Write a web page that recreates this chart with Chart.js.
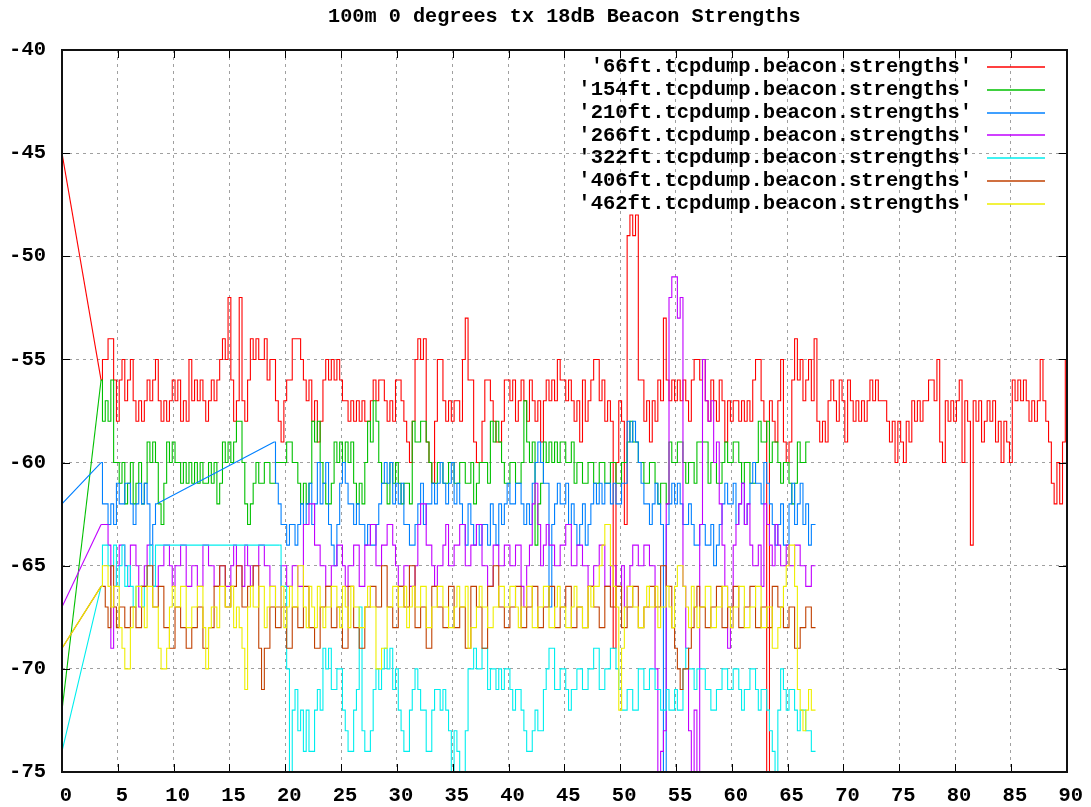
<!DOCTYPE html>
<html>
<head>
<meta charset="utf-8">
<script src="https://cdn.jsdelivr.net/npm/chart.js@4.4.0/dist/chart.umd.min.js"></script>
<style>
html,body{margin:0;padding:0;background:#fff;}
#wrap{width:1091px;height:807px;}
</style>
</head>
<body>
<div id="wrap"><canvas id="c" width="1091" height="807"></canvas></div>
<script>
const chartTitle = '100m 0 degrees tx 18dB Beacon Strengths';
const seriesLabels = [
  "'66ft.tcpdump.beacon.strengths'",
  "'154ft.tcpdump.beacon.strengths'",
  "'210ft.tcpdump.beacon.strengths'",
  "'266ft.tcpdump.beacon.strengths'",
  "'322ft.tcpdump.beacon.strengths'",
  "'406ft.tcpdump.beacon.strengths'",
  "'462ft.tcpdump.beacon.strengths'"
];
const seriesColors = ['#ff0000','#00c000','#0080ff','#c000ff','#00eeee','#c04000','#eeee00'];
const xTicks = [0,5,10,15,20,25,30,35,40,45,50,55,60,65,70,75,80,85,90];
const yTicks = [-40,-45,-50,-55,-60,-65,-70,-75];

// sample times (seconds), one row per 5 s
const times = [
  0,0.25,0.5,0.75,1,1.25,1.5,1.75,2,2.25,2.5,2.75,3,3.25,3.5,3.75,4,4.25,4.5,4.75,
  5,5.25,5.5,5.75,6,6.25,6.5,6.75,7,7.25,7.5,7.75,8,8.25,8.5,8.75,9,9.25,9.5,9.75,
  10,10.25,10.5,10.75,11,11.25,11.5,11.75,12,12.25,12.5,12.75,13,13.25,13.5,13.75,14,14.25,14.5,14.75,
  15,15.25,15.5,15.75,16,16.25,16.5,16.75,17,17.25,17.5,17.75,18,18.25,18.5,18.75,19,19.25,19.5,19.75,
  20,20.25,20.5,20.75,21,21.25,21.5,21.75,22,22.25,22.5,22.75,23,23.25,23.5,23.75,24,24.25,24.5,24.75,
  25,25.25,25.5,25.75,26,26.25,26.5,26.75,27,27.25,27.5,27.75,28,28.25,28.5,28.75,29,29.25,29.5,29.75,
  30,30.25,30.5,30.75,31,31.25,31.5,31.75,32,32.25,32.5,32.75,33,33.25,33.5,33.75,34,34.25,34.5,34.75,
  35,35.25,35.5,35.75,36,36.25,36.5,36.75,37,37.25,37.5,37.75,38,38.25,38.5,38.75,39,39.25,39.5,39.75,
  40,40.25,40.5,40.75,41,41.25,41.5,41.75,42,42.25,42.5,42.75,43,43.25,43.5,43.75,44,44.25,44.5,44.75,
  45,45.25,45.5,45.75,46,46.25,46.5,46.75,47,47.25,47.5,47.75,48,48.25,48.5,48.75,49,49.25,49.5,49.75,
  50,50.25,50.5,50.75,51,51.25,51.5,51.75,52,52.25,52.5,52.75,53,53.25,53.5,53.75,54,54.25,54.5,54.75,
  55,55.25,55.5,55.75,56,56.25,56.5,56.75,57,57.25,57.5,57.75,58,58.25,58.5,58.75,59,59.25,59.5,59.75,
  60,60.25,60.5,60.75,61,61.25,61.5,61.75,62,62.25,62.5,62.75,63,63.25,63.5,63.75,64,64.25,64.5,64.75,
  65,65.25,65.5,65.75,66,66.25,66.5,66.75,67,67.25,67.5,67.75,68,68.25,68.5,68.75,69,69.25,69.5,69.75,
  70,70.25,70.5,70.75,71,71.25,71.5,71.75,72,72.25,72.5,72.75,73,73.25,73.5,73.75,74,74.25,74.5,74.75,
  75,75.25,75.5,75.75,76,76.25,76.5,76.75,77,77.25,77.5,77.75,78,78.25,78.5,78.75,79,79.25,79.5,79.75,
  80,80.25,80.5,80.75,81,81.25,81.5,81.75,82,82.25,82.5,82.75,83,83.25,83.5,83.75,84,84.25,84.5,84.75,
  85,85.25,85.5,85.75,86,86.25,86.5,86.75,87,87.25,87.5,87.75,88,88.25,88.5,88.75,89,89.25,89.5,89.75,
  90
];

const s66 = [
  -45,null,null,null,null,null,null,null,null,null,null,null,null,null,-56,-55,-55,-54,-54,-56,
  -58,-56,-55,-57,-56,-55,-57,-58,-57,-58,-57,-56,-57,-56,-55,-57,-58,-57,-58,-57,
  -56,-57,-56,-58,-57,-58,-55,-57,-56,-57,-56,-57,-58,-57,-56,-57,-56,-55,-54,-55,
  -52,-56,-58,-57,-52,-57,-58,-56,-54,-55,-54,-55,-55,-54,-56,-55,-55,-57,-58,-59,
  -57,-56,-56,-54,-54,-54,-55,-56,-57,-56,-58,-57,-59,-58,-56,-55,-56,-55,-56,-55,
  -56,-57,-57,-58,-57,-58,-57,-58,-57,-58,-58,-57,-56,-57,-56,-56,-57,-58,-57,-58,
  -56,-56,-57,-58,-59,-60,-58,-55,-54,-55,-54,-59,-60,-61,-58,-55,-55,-57,-58,-57,
  -58,-57,-57,-58,-55,-53,-56,-56,-59,-60,-60,-58,-56,-56,-57,-58,-59,-59,-58,-56,
  -56,-57,-56,-58,-57,-56,-57,-58,-56,-57,-58,-57,-59,-57,-56,-57,-56,-57,-55,-56,
  -56,-57,-56,-57,-58,-57,-59,-56,-58,-57,-56,-55,-55,-57,-56,-58,-57,-58,-69,-60,
  -57,-58,-63,-49,-48,-49,-48,-56,-56,-58,-57,-59,-57,-58,-56,-57,-53,-56,-57,-56,
  -57,-56,-57,-56,-57,-58,-56,-55,-55,-56,-55,-57,-58,-56,-57,-58,-56,-57,-59,-57,
  -58,-57,-57,-58,-57,-58,-57,-58,-56,-55,-55,-57,-58,-75,-57,-58,-59,-57,-55,-59,
  -60,-59,-56,-54,-56,-55,-57,-56,-55,-57,-54,-58,-59,-58,-59,-57,-56,-57,-58,-56,
  -57,-59,-56,-57,-58,-57,-58,-57,-58,-57,-56,-57,-56,-57,-57,-57,-58,-59,-58,-60,
  -58,-59,-60,-58,-59,-57,-58,-57,-58,-57,-57,-56,-56,-57,-55,-59,-60,-57,-58,-57,
  -58,-57,-56,-60,-57,-58,-64,-57,-58,-57,-59,-58,-57,-58,-57,-59,-58,-60,-58,-59,
  -60,-56,-57,-56,-57,-56,-57,-58,-57,-58,-57,-55,-57,-58,-59,-61,-62,-60,-62,-59,
  -55
];
const s154 = [
  -72,null,null,null,null,null,null,null,null,null,null,null,null,null,-56,-58,-57,-58,-56,-60,
  -60,-61,-60,-62,-61,-60,-62,-61,-60,-62,-61,-59,-60,-59,-60,-62,-63,-61,-59,-60,
  -59,-60,-60,-61,-60,-61,-60,-61,-60,-61,-60,-61,-61,-60,-61,-60,-62,-61,-59,-60,
  -59,-60,-59,-58,-58,-60,-62,-63,-62,-61,-60,-61,-61,-60,-60,-61,-61,-60,-60,-60,
  -60,-59,-59,-60,-60,-61,-62,-61,-62,-61,-58,-59,-58,-60,-61,-62,-62,-61,-59,-60,
  -59,-60,-59,-60,-59,-61,-62,-61,-62,-60,-58,-59,-57,-58,-60,-61,-61,-62,-60,-61,
  -60,-61,-62,-61,-61,-62,-58,-59,-59,-58,-58,-59,-60,-61,-61,-60,-60,-61,-61,-60,
  -60,-61,-61,-60,-60,-61,-61,-60,-62,-61,-60,-60,-60,-61,-58,-59,-58,-59,-60,-61,
  -61,-60,-60,-61,-61,-60,-57,-59,-60,-59,-64,-62,-61,-59,-60,-59,-60,-59,-60,-59,
  -59,-60,-60,-59,-61,-60,-60,-61,-61,-60,-60,-61,-61,-60,-60,-61,-61,-60,-60,-61,
  -61,-60,-60,-59,-58,-59,-59,-60,-60,-61,-61,-60,-60,-61,-62,-61,-61,-62,-59,-60,
  -60,-59,-59,-60,-61,-60,-60,-61,-59,-59,-59,-59,-61,-60,-60,-61,-61,-60,-59,-60,
  -60,-59,-59,-60,-61,-60,-60,-61,-61,-60,-58,-59,-59,-58,-60,-59,-59,-60,-61,-60,
  -60,-61,-62,-61,-59,-60,-60,-59,-59
];
const s210 = [
  -62,null,null,null,null,null,null,null,null,null,null,null,null,null,-60,-62,-62,-63,-62,-63,
  -61,-62,-62,-61,-61,-62,-63,-62,-61,-62,-61,-62,-64,-63,-62,null,null,null,null,null,
  null,null,null,null,null,null,null,null,null,null,null,null,null,null,null,null,null,null,null,null,
  null,null,null,null,null,null,null,null,null,null,null,null,null,null,null,null,-59,-61,-62,-63,
  -63,-64,-63,-63,-64,-63,-62,-63,-62,-61,-63,-62,-60,-62,-61,-60,-63,-64,-65,-63,
  -61,-60,-61,-62,-62,-63,-62,-63,-63,-64,-63,-64,-64,-63,-62,-61,-60,-61,-60,-62,
  -61,-62,-61,-63,-63,-64,-64,-63,-62,-61,-63,-62,-62,-61,-62,-61,-60,-61,-62,-61,
  -60,-62,-61,-62,-63,-64,-62,-63,-64,-63,-64,-63,-63,-64,-62,-63,-64,-62,-63,-62,
  -61,-62,-62,-61,-61,-62,-63,-62,-63,-61,-60,-59,-60,-61,-61,-67,-63,-62,-61,-62,
  -62,-61,-63,-62,-63,-64,-63,-62,-64,-63,-62,-61,-62,-61,-62,-61,-61,-62,-61,-62,
  -62,-61,-61,-58,-59,-58,-59,-60,-61,-62,-62,-63,-62,-61,-62,-63,-75,-63,-62,-61,
  -62,-61,-62,-63,-63,-62,-63,-64,-64,-63,-63,-64,-64,-63,-65,-64,-63,-62,-61,-62,
  -62,-61,-63,-62,-61,-63,-62,-61,-60,-61,-61,-62,-60,-61,-62,-63,-64,-63,-62,-64,
  -64,-62,-61,-63,-62,-61,-63,-62,-64,-63,-63
];
const s266 = [
  -67,null,null,null,null,null,null,null,null,null,null,null,null,null,-63,-63,-63,-64,-69,-66,
  -65,-64,-64,-65,-66,-64,-64,-65,-67,-66,-65,-64,-64,-66,-66,-65,-65,-64,-64,-65,
  -66,-65,-65,-64,-64,-66,-66,-65,-65,-66,-66,-64,-64,-65,-65,-66,-66,-65,-65,-66,
  -66,-65,-64,-65,-65,-66,-64,-65,-66,-65,-65,-64,-64,-65,-65,-66,-66,-67,-67,-65,
  -65,-66,-66,-65,-65,-66,-66,-63,-63,-62,-62,-64,-64,-65,-65,-66,-66,-65,-65,-64,
  -64,-65,-66,-65,-65,-64,-64,-66,-66,-64,-64,-63,-63,-65,-65,-64,-64,-63,-63,-64,
  -65,-66,-66,-65,-65,-66,-66,-65,-63,-62,-62,-64,-64,-65,-66,-65,-65,-64,-63,-65,
  -65,-64,-64,-63,-63,-65,-65,-64,-64,-63,-63,-65,-65,-66,-66,-64,-64,-65,-65,-64,
  -64,-65,-65,-64,-64,-66,-67,-65,-64,-62,-61,-63,-65,-64,-63,-64,-64,-65,-65,-64,
  -64,-63,-63,-65,-65,-64,-64,-65,-65,-66,-66,-65,-65,-64,-64,-66,-66,-65,-65,-66,
  -66,-65,-67,-66,-65,-64,-64,-65,-65,-64,-64,-65,-65,-70,-75,-74,-73,-62,-52,-51,
  -51,-53,-52,-66,-69,-73,-75,-72,-75,-63,-55,-57,-58,-57,-60,-59,-62,-64,-66,-69,
  -68,-64,-63,-62,-61,-63,-62,-64,-65,-65,-64,-66,-62,-63,-64,-65,-63,-64,-65,-65,
  -64,-65,-65,-64,-64,-65,-65,-66,-66,-65,-65
];
const s322 = [
  -74,null,null,null,null,null,null,null,null,null,null,null,null,null,-66,-64,-64,-65,-65,-64,
  -66,-65,-64,-66,-65,-66,-67,-66,-66,-67,-66,-65,-64,-66,-64,null,null,null,null,null,
  null,null,null,null,null,null,null,null,null,null,null,null,null,null,null,null,null,null,null,null,
  null,null,null,null,null,null,null,null,null,null,null,null,null,null,null,null,null,null,-64,-66,
  -66,-70,-75,-72,-71,-73,-72,-74,-72,-74,-74,-72,-71,-72,-69,-70,-69,-71,-71,-70,
  -70,-72,-73,-74,-74,-72,-71,-67,-73,-74,-74,-73,-71,-70,-71,-70,-69,-70,-69,-71,
  -70,-72,-73,-74,-74,-72,-71,-70,-71,-72,-72,-74,-74,-72,-71,-71,-72,-71,-72,-73,
  -75,-73,-74,-75,-75,-73,-70,-70,-69,-70,-70,-69,-69,-71,-70,-70,-71,-70,-71,-70,
  -70,-71,-72,-71,-71,-72,-73,-74,-74,-73,-72,-73,-73,-71,-70,-69,-69,-71,-71,-70,
  -70,-71,-72,-71,-71,-70,-70,-71,-71,-70,-70,-69,-69,-71,-71,-70,-70,-69,-69,-70,
  -71,-72,-72,-71,-71,-72,-72,-70,-70,-71,-71,-70,-70,-71,-71,-72,-72,-71,-72,-72,
  -71,-72,-72,-70,-69,-70,-70,-71,-70,-70,-70,-71,-71,-72,-72,-71,-71,-70,-70,-71,
  -71,-70,-70,-71,-72,-71,-71,-70,-70,-71,-72,-71,-71,-72,-73,-74,-75,-72,-70,-71,
  -72,-71,-71,-72,-73,-72,-72,-73,-73,-74,-74
];
const s406 = [
  -69,null,null,null,null,null,null,null,null,null,null,null,null,null,-66,-66,-67,-68,-65,-67,
  -68,-67,-67,-68,-68,-67,-67,-68,-68,-66,-66,-65,-65,-67,-67,-66,-66,-68,-68,-69,
  -69,-67,-67,-68,-68,-69,-69,-68,-68,-67,-67,-69,-69,-68,-68,-66,-66,-65,-65,-67,
  -67,-66,-66,-65,-65,-67,-67,-66,-66,-65,-65,-69,-71,-69,-69,-67,-67,-68,-68,-67,
  -67,-69,-69,-67,-67,-68,-68,-66,-66,-68,-68,-69,-69,-67,-67,-66,-66,-68,-68,-67,
  -67,-69,-69,-66,-66,-68,-68,-69,-69,-67,-67,-66,-66,-67,-67,-65,-65,-67,-67,-68,
  -68,-66,-66,-67,-67,-65,-65,-68,-68,-67,-67,-69,-69,-66,-66,-67,-67,-68,-68,-66,
  -66,-68,-68,-67,-67,-69,-69,-66,-66,-67,-67,-69,-69,-66,-66,-65,-65,-67,-67,-68,
  -68,-67,-67,-66,-66,-68,-68,-67,-67,-66,-66,-68,-68,-67,-67,-66,-66,-68,-68,-67,
  -67,-66,-66,-68,-68,-67,-67,-68,-68,-66,-66,-67,-67,-68,-68,-66,-66,-67,-67,-66,
  -66,-68,-68,-67,-67,-66,-66,-68,-68,-67,-67,-66,-66,-67,-67,-65,-65,-66,-66,-68,
  -69,-70,-71,-70,-70,-69,-68,-67,-66,-67,-67,-68,-68,-67,-67,-66,-66,-68,-68,-67,
  -67,-66,-66,-68,-68,-67,-67,-66,-66,-68,-68,-67,-67,-68,-68,-66,-66,-67,-67,-68,
  -68,-67,-67,-69,-69,-68,-68,-67,-67,-68,-68
];
const s462 = [
  -69,null,null,null,null,null,null,null,null,null,null,null,null,null,-66,-65,-65,-66,-67,-66,
  -66,-68,-69,-70,-70,-68,-67,-66,-66,-67,-68,-66,-66,-67,-67,-69,-70,-70,-69,-67,
  -66,-67,-67,-66,-66,-68,-68,-67,-67,-66,-66,-68,-70,-68,-67,-67,-68,-66,-66,-67,
  -67,-66,-68,-67,-68,-69,-71,-67,-66,-67,-67,-66,-66,-68,-67,-66,-66,-67,-67,-66,
  -68,-67,-66,-67,-67,-65,-65,-67,-68,-66,-67,-68,-66,-67,-68,-67,-67,-66,-66,-67,
  -68,-66,-67,-68,-66,-67,-67,-68,-68,-67,-66,-67,-67,-70,-70,-69,-69,-67,-67,-66,
  -66,-67,-67,-66,-68,-67,-66,-67,-67,-66,-66,-68,-68,-67,-67,-66,-66,-67,-67,-68,
  -68,-67,-66,-67,-67,-66,-69,-68,-68,-67,-66,-67,-67,-68,-68,-67,-67,-66,-66,-67,
  -67,-66,-66,-67,-68,-67,-67,-66,-66,-68,-68,-67,-67,-66,-66,-68,-68,-67,-66,-67,
  -67,-68,-68,-67,-66,-67,-67,-68,-68,-66,-67,-66,-66,-65,-64,-63,-63,-65,-66,-67,
  -72,-69,-67,-66,-66,-67,-67,-68,-68,-67,-66,-67,-67,-66,-68,-67,-67,-66,-67,-68,
  -66,-65,-65,-66,-67,-68,-66,-67,-68,-67,-67,-66,-66,-68,-68,-67,-67,-66,-66,-67,
  -68,-67,-67,-66,-66,-68,-68,-67,-67,-66,-66,-68,-68,-67,-67,-69,-69,-68,-67,-66,
  -65,-64,-64,-66,-71,-72,-73,-72,-71,-72,-72
];

const seriesValues = [s66, s154, s210, s266, s322, s406, s462];

// dense samples, broken where readings are missing
function samplePoints(values) {
  return values.map((v, i) => ({x: times[i], y: v}));
}
// straight joins across runs of missing readings (as the plotting program draws them)
function gapJoins(values) {
  const pts = [];
  let last = -1;
  values.forEach((v, i) => {
    if (v === null) return;
    if (last >= 0 && i - last > 1) {
      pts.push({x: times[last], y: values[last]}, {x: times[i], y: v}, {x: times[i], y: null});
    }
    last = i;
  });
  return pts;
}

const FONT = '"Liberation Mono", "DejaVu Sans Mono", monospace';

const framePlugin = {
  id: 'gnuFrame',
  afterDraw(chart) {
    const {ctx, chartArea: a, scales} = chart;
    const xs = scales.x, ys = scales.y;
    ctx.save();
    ctx.font = 'bold 20.2px ' + FONT;
    ctx.fillStyle = '#000';
    ctx.textAlign = 'center';
    ctx.textBaseline = 'middle';
    ctx.fillText(chartTitle, (a.left + a.right) / 2, 17);
    ctx.strokeStyle = '#000';
    ctx.lineWidth = 1;
    ctx.beginPath();
    xTicks.forEach(v => {
      const p = Math.round(xs.getPixelForValue(v)) + 0.5;
      ctx.moveTo(p, a.bottom); ctx.lineTo(p, a.bottom - 8);
      ctx.moveTo(p, a.top); ctx.lineTo(p, a.top + 8);
    });
    yTicks.forEach(v => {
      const p = Math.round(ys.getPixelForValue(v)) + 0.5;
      ctx.moveTo(a.left, p); ctx.lineTo(a.left + 8, p);
      ctx.moveTo(a.right, p); ctx.lineTo(a.right - 8, p);
    });
    ctx.stroke();
    ctx.lineWidth = 2;
    ctx.strokeStyle = '#111';
    ctx.strokeRect(Math.round(a.left), Math.round(a.top), Math.round(a.right - a.left), Math.round(a.bottom - a.top));
    ctx.font = 'bold 20.5px ' + FONT;
    ctx.textAlign = 'right';
    ctx.textBaseline = 'middle';
    seriesLabels.forEach((lab, i) => {
      const yy = 67 + 22.8 * i;
      ctx.fillStyle = '#000';
      ctx.fillText(lab, 972, yy);
      ctx.strokeStyle = seriesColors[i];
      ctx.lineWidth = 1.5;
      ctx.beginPath();
      ctx.moveTo(987, Math.round(yy));
      ctx.lineTo(1045, Math.round(yy));
      ctx.stroke();
    });
    ctx.restore();
  }
};

const datasets = [];
seriesValues.forEach((vals, i) => {
  const common = {
    borderColor: seriesColors[i],
    backgroundColor: seriesColors[i],
    borderWidth: 1.1,
    pointRadius: 0,
    tension: 0,
    fill: false,
    spanGaps: false,
    order: seriesValues.length - i
  };
  datasets.push(Object.assign({label: seriesLabels[i], data: samplePoints(vals), stepped: 'middle'}, common));
  datasets.push(Object.assign({label: seriesLabels[i] + ' join', data: gapJoins(vals), stepped: false}, common));
});

new Chart(document.getElementById('c'), {
  type: 'line',
  data: { datasets },
  plugins: [framePlugin],
  options: {
    responsive: false,
    animation: false,
    devicePixelRatio: 1,
    layout: { padding: { left: 0, right: 23, top: 50, bottom: 0 } },
    plugins: {
      legend: { display: false },
      tooltip: { enabled: false },
      title: { display: false }
    },
    scales: {
      x: {
        type: 'linear',
        min: 0, max: 90,
        afterBuildTicks: s => { s.ticks = xTicks.map(v => ({value: v})); },
        afterFit: s => { s.height = 35; },
        grid: { color: '#a0a0a0', lineWidth: 1, drawTicks: false },
        border: { display: false, dash: [3, 4] },
        ticks: { color: '#000', padding: 12, labelOffset: 4, maxRotation: 0, autoSkip: false,
                 font: { family: FONT, size: 20.5, weight: 'bold' } }
      },
      y: {
        type: 'linear',
        min: -75, max: -40,
        afterBuildTicks: s => { s.ticks = yTicks.map(v => ({value: v})); },
        afterFit: s => { s.width = 62; },
        grid: { color: '#a0a0a0', lineWidth: 1, drawTicks: false },
        border: { display: false, dash: [3, 4] },
        ticks: { color: '#000', padding: 16, autoSkip: false,
                 font: { family: FONT, size: 20.5, weight: 'bold' } }
      }
    }
  }
});
</script>
</body>
</html>
